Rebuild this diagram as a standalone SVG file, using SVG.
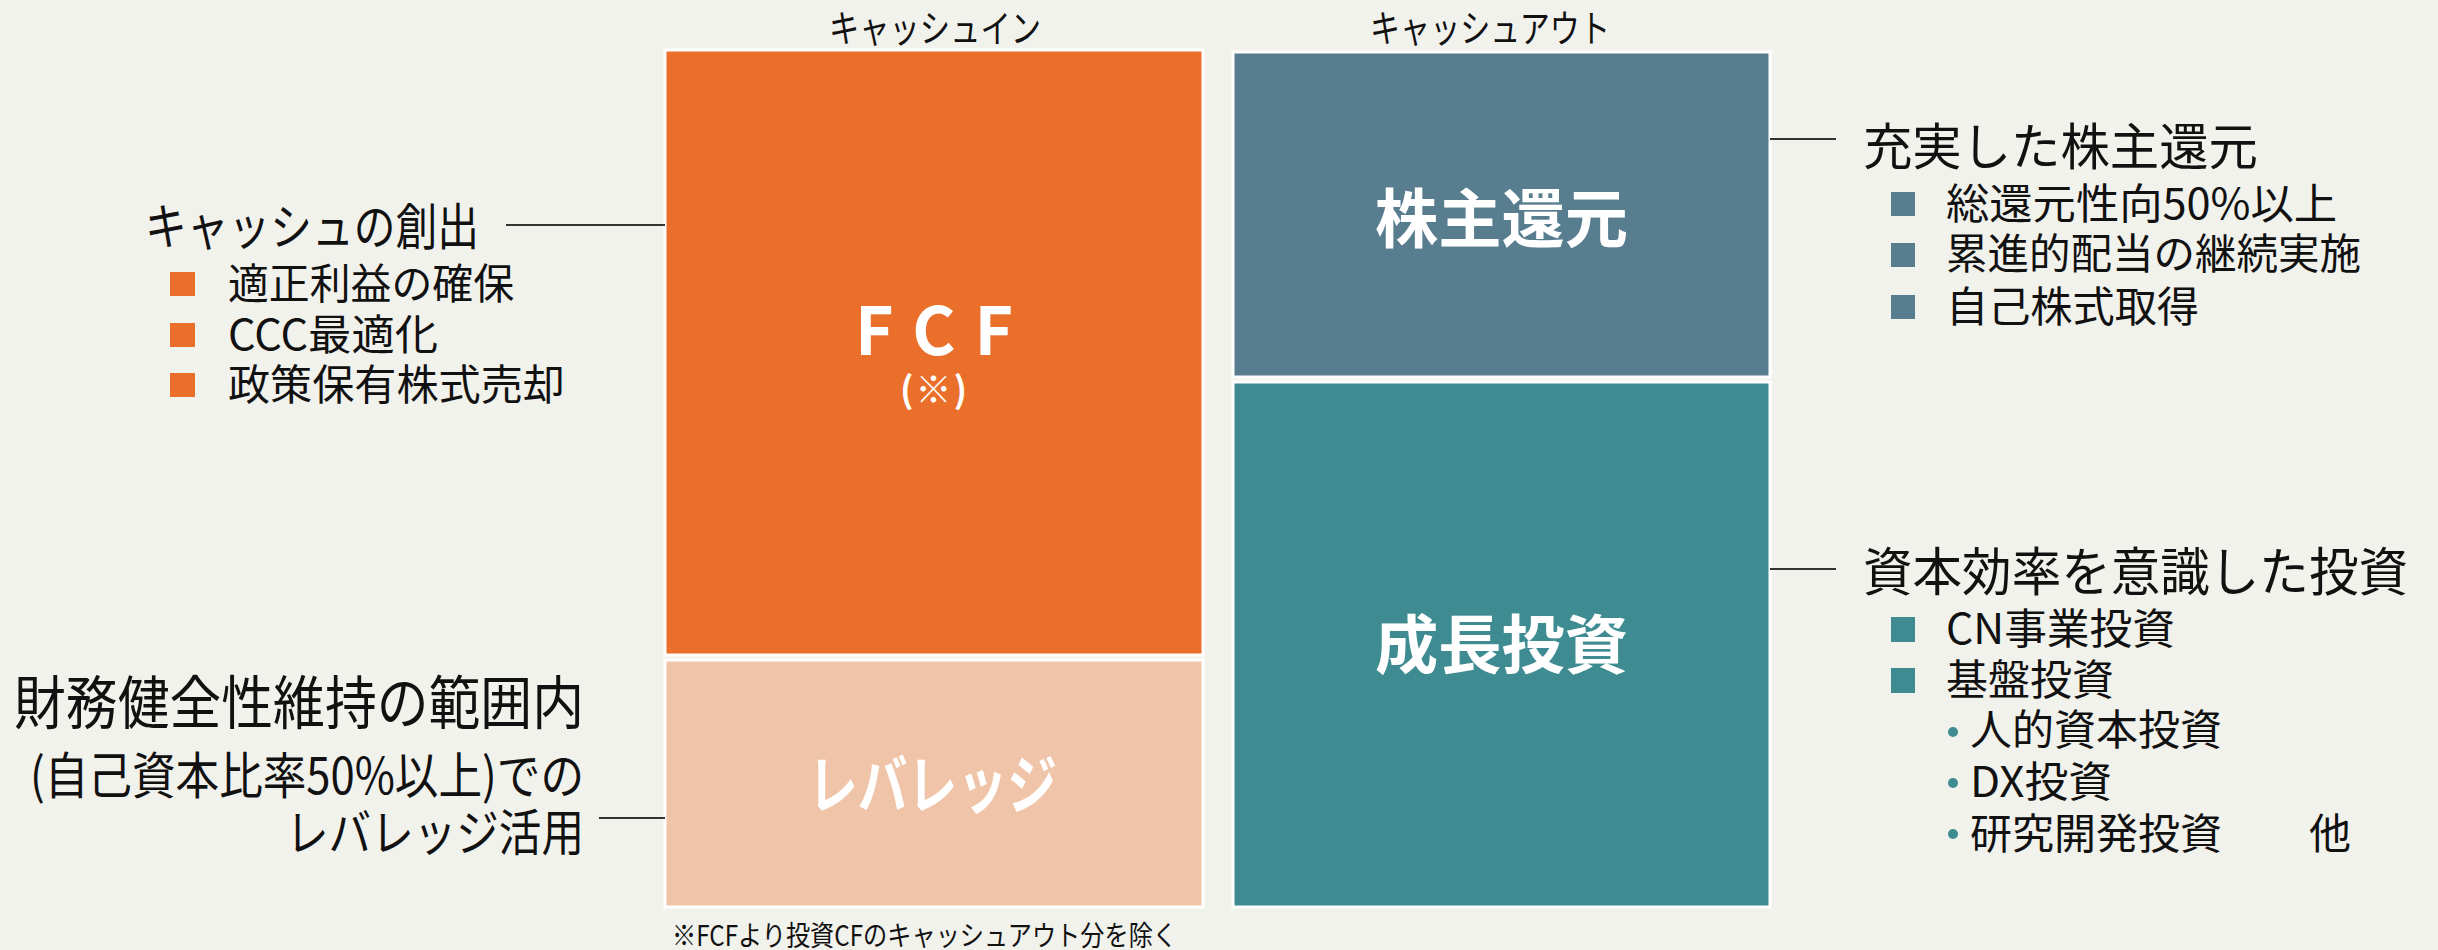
<svg xmlns="http://www.w3.org/2000/svg" width="2438" height="950" viewBox="0 0 2438 950">
<style>
text{font-family:"Noto Sans CJK JP","Noto Sans",sans-serif;fill:#111;}
.w{fill:#fff;font-weight:700;}
.box{stroke:#fff;stroke-width:3;}
.ln{stroke:#333;stroke-width:2;fill:none;}
</style>
<rect width="2438" height="950" fill="#F2F2ED"/>
<g id="headers">
<text x="829" y="42" font-size="38" textLength="212" lengthAdjust="spacingAndGlyphs">キャッシュイン</text>
<text x="1370" y="42" font-size="38" textLength="240" lengthAdjust="spacingAndGlyphs">キャッシュアウト</text>
</g>
<g id="fcf">
<rect class="box" x="665" y="50" width="538" height="605" fill="#E96F2A"/>
<text class="w" x="855" y="355" font-size="66" textLength="158" lengthAdjust="spacing">F C F</text>
<text class="w" x="900" y="403" font-size="36" textLength="67" lengthAdjust="spacing">(※)</text>
</g>
<g id="leverage">
<rect class="box" x="665" y="660" width="538" height="247" fill="#F0C4A8"/>
<text class="w" x="808" y="808" font-size="64" textLength="249" lengthAdjust="spacingAndGlyphs">レバレッジ</text>
</g>
<g id="shareholder">
<rect class="box" x="1233" y="52" width="537" height="325" fill="#587D8F"/>
<text class="w" x="1375" y="242" font-size="64" textLength="253" lengthAdjust="spacingAndGlyphs">株主還元</text>
</g>
<g id="growth">
<rect class="box" x="1233" y="382" width="537" height="525" fill="#3E8B91"/>
<text class="w" x="1375" y="668" font-size="64" textLength="253" lengthAdjust="spacingAndGlyphs">成長投資</text>
</g>
<g id="connectors">
<line class="ln" x1="506" y1="225" x2="665" y2="225"/>
<line class="ln" x1="1770" y1="139" x2="1836" y2="139"/>
<line class="ln" x1="1770" y1="569" x2="1836" y2="569"/>
<line class="ln" x1="599" y1="818" x2="665" y2="818"/>
</g>
<g id="cash-creation">
<text x="145" y="245" font-size="50" textLength="334" lengthAdjust="spacingAndGlyphs">キャッシュの創出</text>
<rect x="170" y="272" width="25" height="24" fill="#E96F2A"/>
<rect x="170" y="323" width="25" height="24" fill="#E96F2A"/>
<rect x="170" y="373" width="25" height="24" fill="#E96F2A"/>
<text x="228" y="299" font-size="42" textLength="286" lengthAdjust="spacingAndGlyphs">適正利益の確保</text>
<text x="228" y="350" font-size="42" textLength="210" lengthAdjust="spacingAndGlyphs">CCC最適化</text>
<text x="228" y="400" font-size="42" textLength="337" lengthAdjust="spacingAndGlyphs">政策保有株式売却</text>
</g>
<g id="leverage-note">
<text x="14" y="724" font-size="58" textLength="570" lengthAdjust="spacingAndGlyphs">財務健全性維持の範囲内</text>
<text x="30" y="794" font-size="50" textLength="554" lengthAdjust="spacingAndGlyphs">(自己資本比率50%以上)での</text>
<text x="286" y="851" font-size="50" textLength="298" lengthAdjust="spacingAndGlyphs">レバレッジ活用</text>
</g>
<g id="return-note">
<text x="1863" y="165" font-size="50" textLength="395" lengthAdjust="spacingAndGlyphs">充実した株主還元</text>
<rect x="1891" y="192" width="24" height="24" fill="#587D8F"/>
<rect x="1891" y="243" width="24" height="24" fill="#587D8F"/>
<rect x="1891" y="295" width="24" height="24" fill="#587D8F"/>
<text x="1946" y="219" font-size="42" textLength="391" lengthAdjust="spacingAndGlyphs">総還元性向50%以上</text>
<text x="1946" y="269" font-size="42" textLength="415" lengthAdjust="spacingAndGlyphs">累進的配当の継続実施</text>
<text x="1946" y="322" font-size="42" textLength="253" lengthAdjust="spacingAndGlyphs">自己株式取得</text>
</g>
<g id="invest-note">
<text x="1863" y="591" font-size="52" textLength="545" lengthAdjust="spacingAndGlyphs">資本効率を意識した投資</text>
<rect x="1891" y="617" width="24" height="25" fill="#3E8B91"/>
<rect x="1891" y="668" width="24" height="25" fill="#3E8B91"/>
<text x="1946" y="644" font-size="42" textLength="229" lengthAdjust="spacingAndGlyphs">CN事業投資</text>
<text x="1946" y="695" font-size="42" textLength="168" lengthAdjust="spacingAndGlyphs">基盤投資</text>
<circle cx="1953" cy="732" r="5" fill="#3E8B91"/>
<circle cx="1953" cy="783" r="5" fill="#3E8B91"/>
<circle cx="1953" cy="834" r="5" fill="#3E8B91"/>
<text x="1970" y="745" font-size="42" textLength="252" lengthAdjust="spacingAndGlyphs">人的資本投資</text>
<text x="1970" y="797" font-size="42" textLength="142" lengthAdjust="spacingAndGlyphs">DX投資</text>
<text x="1970" y="849" font-size="42" textLength="252" lengthAdjust="spacingAndGlyphs">研究開発投資</text>
<text x="2309" y="849" font-size="42" textLength="42" lengthAdjust="spacingAndGlyphs">他</text>
</g>
<g id="footnote">
<text x="672" y="946" font-size="28" textLength="505" lengthAdjust="spacingAndGlyphs">※FCFより投資CFのキャッシュアウト分を除く</text>
</g>
</svg>
